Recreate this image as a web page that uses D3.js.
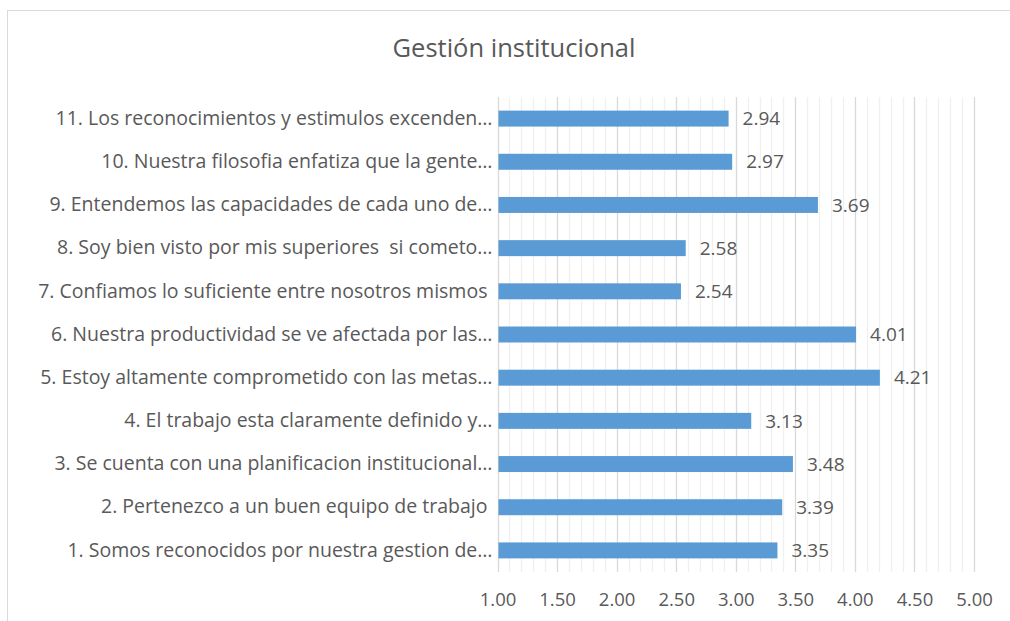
<!DOCTYPE html>
<html lang="es">
<head>
<meta charset="utf-8" />
<title>Gestión institucional</title>
<script src="https://cdn.jsdelivr.net/npm/d3@7"></script>
<style>
  body { margin: 0; background: #fff; }
  text { font-family: "Open Sans", "Noto Sans", sans-serif; fill: #595959; white-space: pre; }
</style>
</head>
<body>
<div id="chart"></div>
<script>
// data (bottom to top in the chart)
var labels = [
  "1. Somos reconocidos por nuestra gestion de…",
  "2. Pertenezco a un buen equipo de trabajo ",
  "3. Se cuenta con una planificacion institucional…",
  "4. El trabajo esta claramente definido y…",
  "5. Estoy altamente comprometido con las metas…",
  "6. Nuestra productividad se ve afectada por las…",
  "7. Confiamos lo suficiente entre nosotros mismos ",
  "8. Soy bien visto por mis superiores  si cometo…",
  "9. Entendemos las capacidades de cada uno de…",
  "10. Nuestra filosofia enfatiza que la gente…",
  "11. Los reconocimientos y estimulos excenden…"
];
var values = [3.35, 3.39, 3.48, 3.13, 4.21, 4.01, 2.54, 2.58, 3.69, 2.97, 2.94];
var xTicks = [1, 1.5, 2, 2.5, 3, 3.5, 4, 4.5, 5];

var W = 1010, H = 621;
var margin = {top: 97, right: 36, bottom: 49, left: 497.5};

var svg = d3.select("#chart").append("svg")
  .attr("width", W)
  .attr("height", H);

// chart frame (runs off the right and bottom edge)
svg.append("rect")
  .attr("x", 7.5).attr("y", 10.5)
  .attr("width", W + 20).attr("height", H + 20)
  .attr("fill", "none")
  .attr("stroke", "#d9d9d9")
  .attr("stroke-width", 1);

svg.append("text")
  .attr("x", 514).attr("y", 57)
  .attr("text-anchor", "middle")
  .style("font-size", "25.5px")
  .text("Gestión institucional");

var x = d3.scaleLinear().domain([1, 5]).range([margin.left, W - margin.right]);
var y = d3.scaleBand()
  .domain(labels.slice().reverse())
  .range([margin.top, H - margin.bottom])
  .paddingInner(0.63).paddingOuter(0.315);

// minor gridlines every 0.1
var minor = d3.range(11, 50).map(function(d) { return d / 10; })
  .filter(function(d) { return Math.round(d * 10) % 5 !== 0; });
svg.append("g").selectAll("line").data(minor).join("line")
  .attr("x1", function(d) { return Math.round(x(d)) + 0.5; })
  .attr("x2", function(d) { return Math.round(x(d)) + 0.5; })
  .attr("y1", margin.top).attr("y2", H - margin.bottom)
  .attr("stroke", "#f0f0f0").attr("stroke-width", 1.3);

// major gridlines every 0.5
svg.append("g").selectAll("line").data(xTicks).join("line")
  .attr("x1", function(d) { return Math.round(x(d)) + 0.5; })
  .attr("x2", function(d) { return Math.round(x(d)) + 0.5; })
  .attr("y1", margin.top).attr("y2", H - margin.bottom)
  .attr("stroke", "#d9d9d9").attr("stroke-width", 1.3);

// bars
svg.append("g").selectAll("rect").data(values).join("rect")
  .attr("x", x(1) + 1)
  .attr("y", function(d, i) { return y(labels[i]); })
  .attr("width", function(d) { return x(d) - x(1) - 1; })
  .attr("height", y.bandwidth())
  .attr("fill", "#5b9bd5");

// value labels
svg.append("g").selectAll("text").data(values).join("text")
  .attr("x", function(d) { return x(d) + 14; })
  .attr("y", function(d, i) { return y(labels[i]) + y.bandwidth() / 2; })
  .attr("dy", "0.35em")
  .style("font-size", "19px")
  .text(function(d) { return d3.format(".2f")(d); });

// category axis
var yAxis = svg.append("g")
  .attr("transform", "translate(" + (margin.left - 5) + ",0)")
  .call(d3.axisLeft(y).tickSize(0).tickPadding(0));
yAxis.select(".domain").remove();
yAxis.selectAll("text")
  .style("font-size", "19.5px")
  .style("font-family", "\"Open Sans\", sans-serif")
  .attr("fill", "#595959");

// value axis
var xAxis = svg.append("g")
  .attr("transform", "translate(0," + (H - margin.bottom) + ")")
  .call(d3.axisBottom(x).tickValues(xTicks).tickSize(0).tickPadding(21).tickFormat(d3.format(".2f")));
xAxis.select(".domain").remove();
xAxis.selectAll("text")
  .style("font-size", "18.5px")
  .style("font-family", "\"Open Sans\", sans-serif")
  .attr("fill", "#595959");
</script>
</body>
</html>
